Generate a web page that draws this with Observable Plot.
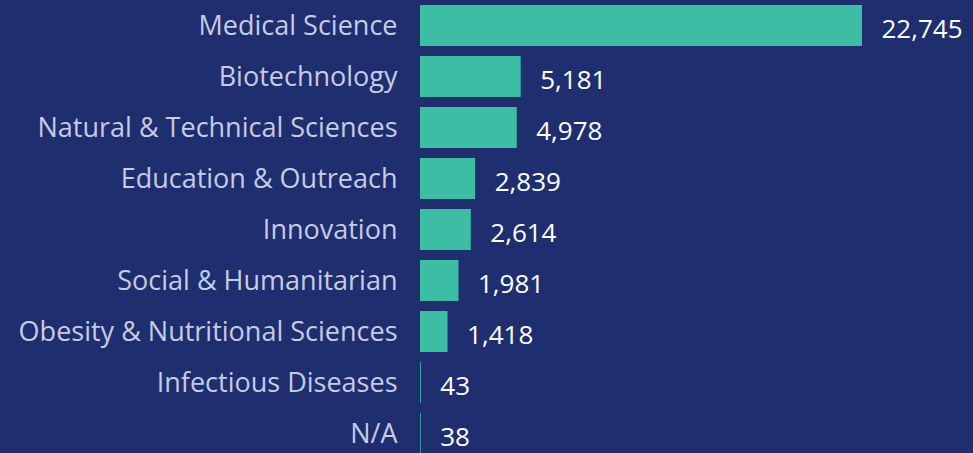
<!DOCTYPE html>
<html>
<head>
<meta charset="utf-8">
<script src="https://cdn.jsdelivr.net/npm/d3@7"></script>
<script src="https://cdn.jsdelivr.net/npm/@observablehq/plot@0.6"></script>
<style>
  html, body { margin: 0; padding: 0; background: #1f2e6e; overflow: hidden; }
  #chart svg { display: block; }
</style>
</head>
<body>
<div id="chart"></div>
<script>
const categories = [
  "Medical Science",
  "Biotechnology",
  "Natural & Technical Sciences",
  "Education & Outreach",
  "Innovation",
  "Social & Humanitarian",
  "Obesity & Nutritional Sciences",
  "Infectious Diseases",
  "N/A"
];
const values = [22745, 5181, 4978, 2839, 2614, 1981, 1418, 43, 38];

const data = categories.map((c, i) => ({category: c, value: values[i]}));
const fmt = d3.format(",");

const chart = Plot.plot({
  width: 973,
  height: 459,
  marginTop: 0,
  marginBottom: 0,
  marginLeft: 420,
  marginRight: 111,
  style: {background: "#1f2e6e", fontFamily: "'Open Sans', sans-serif", fontSize: "26px"},
  x: {domain: [0, 22745], axis: null},
  y: {domain: categories, paddingInner: 0.2, paddingOuter: 0.1, label: null},
  marks: [
    Plot.barX(data, {x: "value", y: "category", fill: "#3dbda3"}),
    Plot.axisY({tickSize: 0, tickPadding: 23, label: null, fill: "#c6cbe6", fontSize: 27}),
    Plot.text(data, {x: "value", y: "category", text: d => fmt(d.value), textAnchor: "start", dx: 19, dy: 4, fill: "#ffffff", fontSize: 26})
  ]
});
document.getElementById("chart").appendChild(chart);
</script>
</body>
</html>
